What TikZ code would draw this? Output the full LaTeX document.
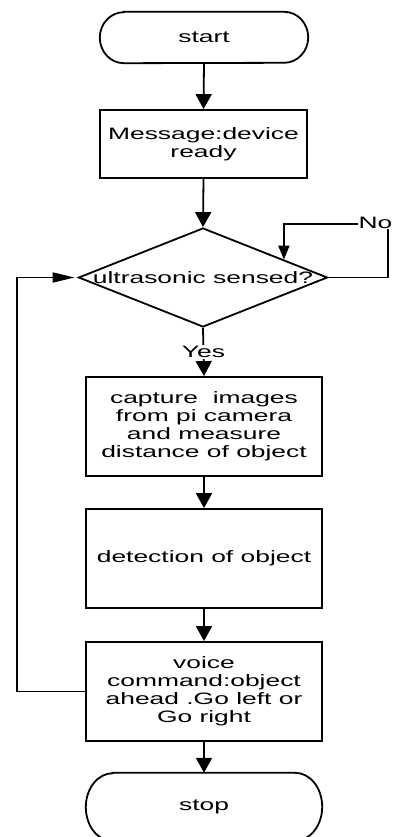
\documentclass[tikz,border=0pt]{standalone}
\usepackage{fontspec}
\setmainfont{Liberation Sans}[FakeStretch=1.6]
\usetikzlibrary{shapes.geometric,arrows.meta,calc}
\tikzset{
  x=1pt,y=1pt,
  every node/.style={font=\fontsize{16.5}{18}\selectfont},
  boxnode/.style={draw,line width=1.8pt,rectangle,inner sep=0pt,align=center,
     minimum width=236pt,minimum height=99pt},
  termnode/.style={inner sep=0pt,align=center},
  conn/.style={line width=1.8pt},
  varr/.style={conn,-{Triangle[width=16pt,length=15pt]}},
  harr/.style={conn,-{Triangle[width=10pt,length=22pt]}},
  narr/.style={conn,-{Triangle[width=11pt,length=14pt]}},
  lbl/.style={fill=white,inner sep=1.5pt},
}
\begin{document}
\begin{tikzpicture}
\useasboundingbox (0,0) rectangle (393,-837);
\fill[white] (0,0) rectangle (393,-837);

% start terminator
\node[termnode,minimum width=208pt,minimum height=51pt] (start) at (204,-37.5) {start};
\draw[line width=1.8pt] ([xshift=24pt]start.north west) -- ([xshift=-24pt]start.north east)
  arc[start angle=90,end angle=-90,x radius=24pt,y radius=25.5pt]
  -- ([xshift=24pt]start.south west)
  arc[start angle=270,end angle=90,x radius=24pt,y radius=25.5pt] -- cycle;

\node[boxnode,minimum width=207pt,minimum height=68pt] (msg) at (203.5,-144) {Message:device\\ready};

\node[draw,diamond,line width=1.8pt,inner sep=0pt,minimum width=249pt,minimum height=99pt] (dec) at (203,-277.5) {};
\node[termnode] (dectext) at (dec.center) {ultrasonic sensed?};

\node[boxnode] (cap) at (204,-426.5) {capture\ \ images\\from pi camera\\and measure\\distance of object};
\node[boxnode] (det) at (204,-558.5) {detection of object};
\node[boxnode] (voice) at (204,-691.5) {voice\\command:object\\ahead .Go left or\\Go right};

% stop terminator
\node[termnode,minimum width=236pt,minimum height=68pt] (stop) at (204,-807) {stop};
\draw[line width=1.8pt] ([xshift=27pt]stop.north west) -- ([xshift=-27pt]stop.north east)
  arc[start angle=90,end angle=-90,x radius=27pt,y radius=34pt]
  -- ([xshift=27pt]stop.south west)
  arc[start angle=270,end angle=90,x radius=27pt,y radius=34pt] -- cycle;

% connectors
\draw[varr] (start.south) -- (msg.north);
\draw[varr] (msg.south) -- (dec.north);
\draw[varr] (dec.south) -- node[lbl] (yes) {Yes} (cap.north);
\draw[varr] (cap.south) -- (det.north);
\draw[varr] (det.south) -- (voice.north);
\draw[varr] (voice.south) -- (stop.north);

% No loop
\coordinate (noin) at ($(dec.north)!0.645!(dec.east)$);
\coordinate (nr) at (388,-224);
\draw[narr] (dec.east) -| (nr) -| (noin);
\node[lbl,anchor=east,inner sep=0.5pt] (no) at (393,-223) {No};

% back loop
\coordinate (lc) at (17,-277.5);
\draw[harr,shorten >=3pt] (voice.west) -| (lc) -- (dec.west);
\end{tikzpicture}
\end{document}
